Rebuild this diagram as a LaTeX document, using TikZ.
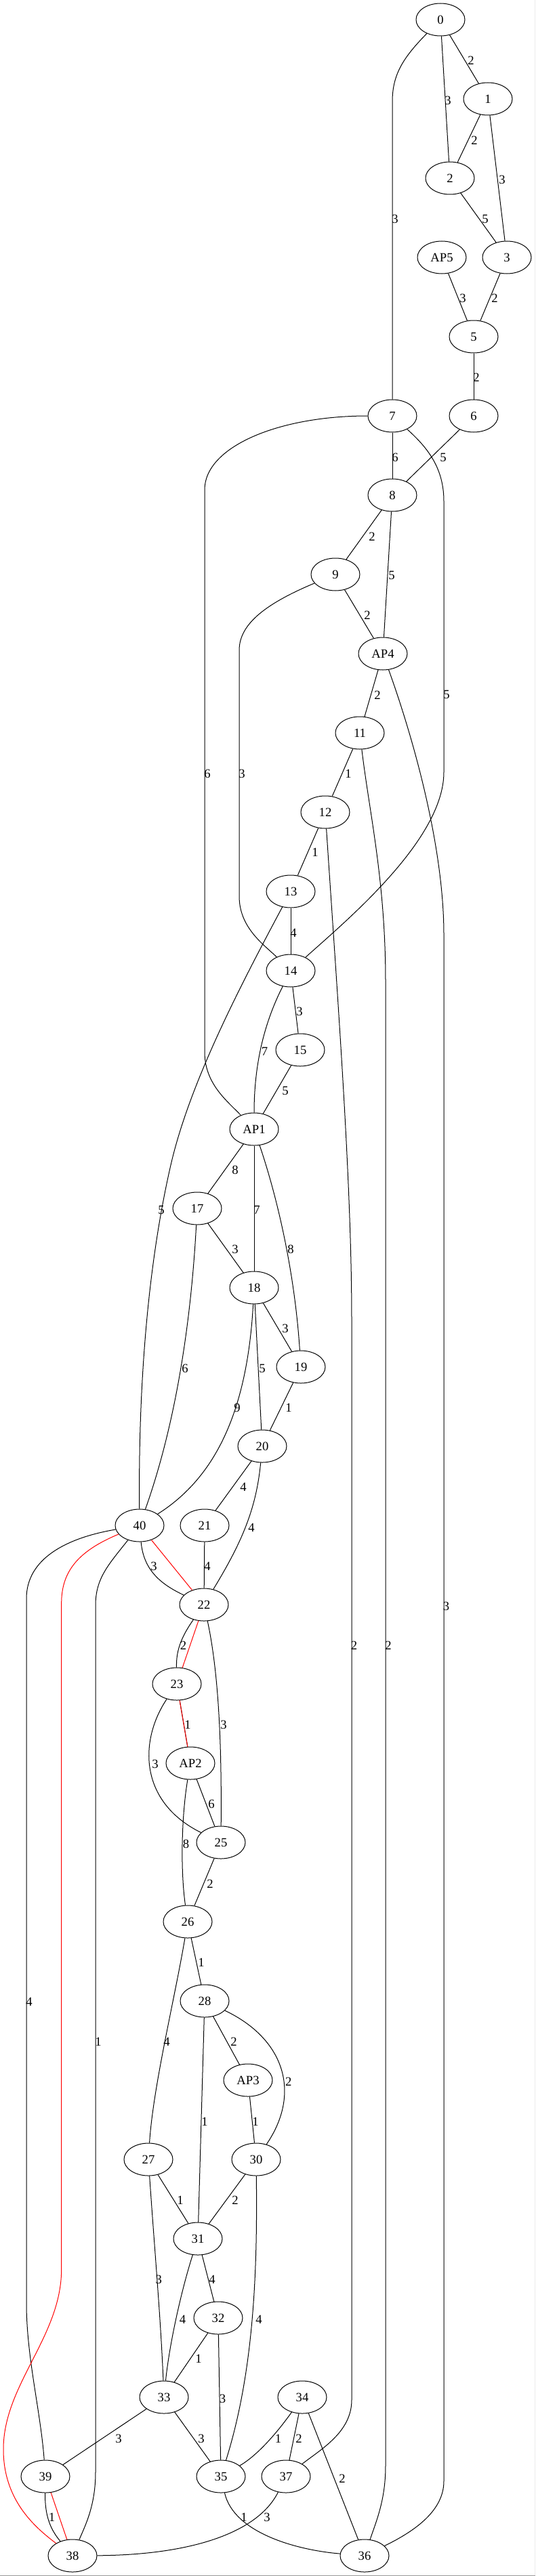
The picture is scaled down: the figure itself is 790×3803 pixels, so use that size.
\documentclass[tikz,border=0pt]{standalone}
\usepackage{fontspec}
\setmainfont{Liberation Serif}
\usetikzlibrary{shapes.geometric}
\tikzset{
  nd/.style={draw, ellipse, minimum width=54pt, minimum height=36pt, inner sep=0pt, line width=0.75pt, font=\fontsize{14}{16}\selectfont},
  lb/.style={inner sep=0pt, font=\fontsize{14}{16}\selectfont},
  ed/.style={line width=0.75pt, draw=black},
  re/.style={line width=0.75pt, draw=red},
}
\begin{document}
\begin{tikzpicture}[x=0.75pt,y=-0.75pt]
\useasboundingbox (0,0) rectangle (790,3803);
\fill[white] (0,0) rectangle (790,3803);
\draw[draw=black!40, line width=0.75pt] (0,3802.5) -- (790,3802.5);
\draw[draw=black!8, line width=0.75pt] (789.5,0) -- (789.5,3802);
% nodes
\node[nd] (n0) at (650,29) {0};
\node[nd] (n1) at (720,146) {1};
\node[nd] (n2) at (664,263) {2};
\node[nd] (nAP5) at (652,380) {AP5};
\node[nd] (n3) at (748,380) {3};
\node[nd] (n5) at (699,497) {5};
\node[nd] (n7) at (579,614) {7};
\node[nd] (n6) at (699,614) {6};
\node[nd] (n8) at (579,731) {8};
\node[nd] (n9) at (495,848) {9};
\node[nd] (nAP4) at (565,965) {AP4};
\node[nd] (n11) at (531,1082) {11};
\node[nd] (n12) at (480,1199) {12};
\node[nd] (n13) at (429,1316) {13};
\node[nd] (n14) at (429,1433) {14};
\node[nd] (n15) at (443,1550) {15};
\node[nd] (nAP1) at (375,1667) {AP1};
\node[nd] (n17) at (291,1784) {17};
\node[nd] (n18) at (375,1901) {18};
\node[nd] (n19) at (444,2018) {19};
\node[nd] (n20) at (387,2135) {20};
\node[nd] (n40) at (206,2252) {40};
\node[nd] (n21) at (302,2252) {21};
\node[nd] (n22) at (301,2369) {22};
\node[nd] (n23) at (261,2486) {23};
\node[nd] (nAP2) at (281,2603) {AP2};
\node[nd] (n25) at (326,2720) {25};
\node[nd] (n26) at (277,2837) {26};
\node[nd] (n28) at (302,2954) {28};
\node[nd] (nAP3) at (366,3071) {AP3};
\node[nd] (n27) at (219,3188) {27};
\node[nd] (n30) at (378,3188) {30};
\node[nd] (n31) at (292,3305) {31};
\node[nd] (n32) at (322,3422) {32};
\node[nd] (n33) at (242,3539) {33};
\node[nd] (n34) at (446,3539) {34};
\node[nd] (n39) at (67,3656) {39};
\node[nd] (n35) at (326,3656) {35};
\node[nd] (n37) at (422,3656) {37};
\node[nd] (n38) at (107,3773) {38};
\node[nd] (n36) at (538,3773) {36};
% straight edges
\draw[ed] (n0) -- (n1);
\draw[ed] (n0) -- (n2);
\draw[ed] (n1) -- (n2);
\draw[ed] (n1) -- (n3);
\draw[ed] (n2) -- (n3);
\draw[ed] (nAP5) -- (n5);
\draw[ed] (n3) -- (n5);
\draw[ed] (n5) -- (n6);
\draw[ed] (n7) -- (n8);
\draw[ed] (n6) -- (n8);
\draw[ed] (n8) -- (n9);
\draw[ed] (n8) -- (nAP4);
\draw[ed] (n9) -- (nAP4);
\draw[ed] (nAP4) -- (n11);
\draw[ed] (n11) -- (n12);
\draw[ed] (n12) -- (n13);
\draw[ed] (n13) -- (n14);
\draw[ed] (n14) -- (n15);
\draw[ed] (n15) -- (nAP1);
\draw[ed] (nAP1) -- (n17);
\draw[ed] (nAP1) -- (n18);
\draw[ed] (n17) -- (n18);
\draw[ed] (n18) -- (n19);
\draw[ed] (n18) -- (n20);
\draw[ed] (n19) -- (n20);
\draw[ed] (n20) -- (n21);
\draw[ed] (n21) -- (n22);
\draw[ed] (nAP2) -- (n25);
\draw[ed] (n25) -- (n26);
\draw[ed] (n26) -- (n28);
\draw[ed] (n28) -- (nAP3);
\draw[ed] (n28) -- (n31);
\draw[ed] (nAP3) -- (n30);
\draw[ed] (n27) -- (n31);
\draw[ed] (n30) -- (n31);
\draw[ed] (n31) -- (n32);
\draw[ed] (n32) -- (n33);
\draw[ed] (n32) -- (n35);
\draw[ed] (n33) -- (n39);
\draw[ed] (n33) -- (n35);
\draw[ed] (n34) -- (n37);
\draw[ed] (n34) -- (n36);
\draw[ed] (n23) -- (nAP2);
% curved edges
\draw[ed] (n0) .. controls (595,85) and (579,110) .. (579,150) -- (n7);
\draw[ed] (n7) .. controls (410,614) and (302,660) .. (302,723) -- (302,1553) .. controls (302,1600) and (335,1625) .. (nAP1);
\draw[ed] (n7) .. controls (630,660) and (655,690) .. (655,740) -- (655,1140) .. controls (655,1240) and (510,1360) .. (n14);
\draw[ed] (n9) .. controls (395,890) and (353,920) .. (353,960) -- (353,1323) .. controls (353,1370) and (390,1395) .. (n14);
\draw[ed] (nAP4) .. controls (610,1090) and (655,1250) .. (655,1380) -- (655,3663) .. controls (655,3710) and (605,3740) .. (n36);
\draw[ed] (n11) .. controls (545,1200) and (569,1300) .. (569,1450) -- (569,3640) .. controls (569,3690) and (556,3720) .. (n36);
\draw[ed] (n12) .. controls (500,1500) and (519,1750) .. (519,1950) -- (519,3543) .. controls (519,3590) and (475,3615) .. (n37);
\draw[ed] (n13) .. controls (352.6,1459) and (279.6,1600) .. (252,1720) .. controls (217.5,1870) and (204,2050) .. (n40);
\draw[ed] (n14) .. controls (395,1500) and (375,1560) .. (nAP1);
\draw[ed] (nAP1) .. controls (410,1770) and (435,1880) .. (n19);
\draw[ed] (n17) .. controls (282,1950) and (260,2100) .. (n40);
\draw[ed] (n18) .. controls (365,2080) and (320,2180) .. (n40);
\draw[ed] (n20) .. controls (378,2230) and (355,2280) .. (n22);
\draw[ed] (n40) .. controls (212,2320) and (240,2340) .. (n22);
\draw[ed] (n40) .. controls (100,2270) and (39,2300) .. (39,2360) -- (39,3400) .. controls (39,3480) and (60,3560) .. (n39);
\draw[ed] (n40) .. controls (160,2310) and (141,2330) .. (141,2370) -- (141,3650) .. controls (141,3700) and (125,3730) .. (n38);
\draw[ed] (n22) .. controls (265,2420) and (260,2440) .. (n23);
\draw[ed] (n22) .. controls (325,2480) and (327,2600) .. (n25);
\draw[ed] (n23) .. controls (205,2570) and (205,2660) .. (n25);
\draw[ed] (nAP2) .. controls (268,2680) and (266,2760) .. (n26);
\draw[ed] (n26) .. controls (258,2950) and (226,3080) .. (n27);
\draw[ed] (n28) .. controls (420,3010) and (445,3090) .. (n30);
\draw[ed] (n27) .. controls (228,3320) and (237,3420) .. (n33);
\draw[ed] (n31) .. controls (268,3380) and (250,3460) .. (n33);
\draw[ed] (n30) .. controls (380,3350) and (375,3500) .. (n35);
\draw[ed] (n34) .. controls (410,3590) and (380,3625) .. (n35);
\draw[ed] (n35) .. controls (345,3740) and (440,3765) .. (n36);
\draw[ed] (n37) .. controls (380,3740) and (280,3772) .. (n38);
\draw[ed] (n39) .. controls (66,3715) and (75,3735) .. (n38);
% red edges
\draw[re] (n40) -- (n22);
\draw[re] (n22) -- (n23);
\draw[re, xshift=1.2] (n23) -- (nAP2);
\draw[re] (n39) -- (n38);
\draw[re] (n40) .. controls (115,2290) and (90.7,2320) .. (90.7,2367) -- (90.7,3350) .. controls (90.7,3450) and (5,3520) .. (5,3616) .. controls (5,3690) and (50,3730) .. (n38);
% labels
\node[lb] (l1) at (695,89) {2};
\node[lb] (l2) at (661,148) {3};
\node[lb] (l3) at (700,207) {2};
\node[lb] (l4) at (741,265) {3};
\node[lb] (l5) at (716,323) {5};
\node[lb] (l6) at (583,323) {3};
\node[lb] (l7) at (683,440) {3};
\node[lb] (l8) at (730,440) {2};
\node[lb] (l9) at (703,557) {2};
\node[lb] (l10) at (583,675) {6};
\node[lb] (l11) at (654,675) {5};
\node[lb] (l12) at (549,792) {2};
\node[lb] (l13) at (578,849) {5};
\node[lb] (l14) at (542,908) {2};
\node[lb] (l15) at (557,1026) {2};
\node[lb] (l16) at (659,1025) {5};
\node[lb] (l17) at (306,1142) {6};
\node[lb] (l18) at (357,1142) {3};
\node[lb] (l19) at (514,1142) {1};
\node[lb] (l20) at (465,1258) {1};
\node[lb] (l21) at (433,1377) {4};
\node[lb] (l22) at (442,1493) {3};
\node[lb] (l23) at (390.5,1552) {7};
\node[lb] (l24) at (421,1610) {5};
\node[lb] (l25) at (347,1727) {8};
\node[lb] (l26) at (379,1786) {7};
\node[lb] (l27) at (238,1786) {5};
\node[lb] (l28) at (347,1844) {3};
\node[lb] (l29) at (429,1844) {8};
\node[lb] (l30) at (421,1961) {3};
\node[lb] (l31) at (273,2020) {6};
\node[lb] (l32) at (387,2020) {5};
\node[lb] (l33) at (350,2078) {9};
\node[lb] (l34) at (426,2078) {1};
\node[lb] (l35) at (359,2195) {4};
\node[lb] (l36) at (371,2255) {4};
\node[lb] (l37) at (227,2312) {3};
\node[lb] (l38) at (306,2312) {4};
\node[lb] (l39) at (658.5,2371) {3};
\node[lb] (l40) at (522.5,2429) {2};
\node[lb] (l41) at (573,2429) {2};
\node[lb] (l42) at (270.6,2429) {2};
\node[lb] (l43) at (277,2546) {1};
\node[lb] (l44) at (330,2546) {3};
\node[lb] (l45) at (229,2604) {3};
\node[lb] (l46) at (312,2663) {6};
\node[lb] (l47) at (274.6,2722) {8};
\node[lb] (l48) at (310,2781) {2};
\node[lb] (l49) at (297,2897) {1};
\node[lb] (l50) at (43,2955) {4};
\node[lb] (l51) at (145,3014) {1};
\node[lb] (l52) at (246,3014) {4};
\node[lb] (l53) at (345,3014) {2};
\node[lb] (l54) at (425.7,3073) {2};
\node[lb] (l55) at (302,3132) {1};
\node[lb] (l56) at (377,3132) {1};
\node[lb] (l57) at (266,3248) {1};
\node[lb] (l58) at (347,3248) {2};
\node[lb] (l59) at (234.3,3365) {3};
\node[lb] (l60) at (313,3365) {4};
\node[lb] (l61) at (269.5,3424) {4};
\node[lb] (l62) at (382,3424) {4};
\node[lb] (l63) at (293,3482) {1};
\node[lb] (l64) at (328.5,3541) {3};
\node[lb] (l65) at (175,3600) {3};
\node[lb] (l66) at (297,3600) {3};
\node[lb] (l67) at (410.6,3600) {1};
\node[lb] (l68) at (441,3600) {2};
\node[lb] (l69) at (505,3659) {2};
\node[lb] (l70) at (76.6,3716) {1};
\node[lb] (l71) at (360,3716) {1};
\node[lb] (l72) at (394,3716) {3};
\end{tikzpicture}
\end{document}
